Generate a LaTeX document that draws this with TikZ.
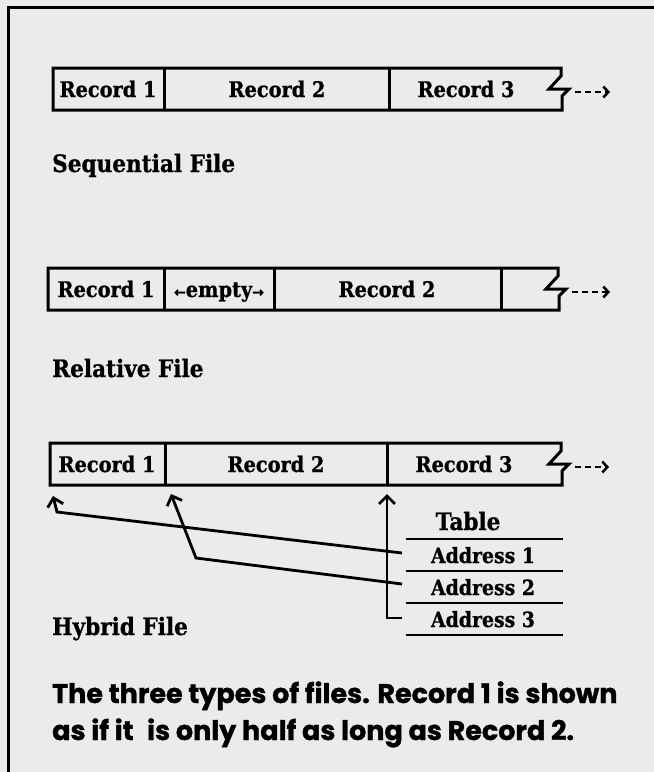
\documentclass[tikz,border=0pt]{standalone}
\usepackage{fontspec}
\setmainfont{DejaVu Serif Condensed}[BoldFeatures={FakeBold=0.8}]
\newfontfamily\capfont{Poppins}[BoldFeatures={FakeBold=1.2}]
\newfontfamily\symfont{DejaVu Sans}[BoldFeatures={FakeBold=1}]
\usetikzlibrary{arrows.meta}
\begin{document}
\begin{tikzpicture}[x=1pt,y=-1pt,
  rec/.style={font=\bfseries\fontsize{21.5}{24}\selectfont, inner sep=0pt},
  lbl/.style={font=\bfseries\fontsize{24}{28}\selectfont, inner sep=0pt, anchor=base west},
  addr/.style={font=\bfseries\fontsize{21}{24}\selectfont, inner sep=0pt, anchor=base},
  strip/.style={line width=3pt, line join=miter},
  ptr/.style={line width=2.8pt, -{Straight Barb[length=8pt,width=16pt]}},
  more/.style={line width=2.5pt, dash pattern=on 6pt off 4pt, -{Straight Barb[length=5pt,width=11pt]}},
  tab/.style={line width=2pt},
  capt/.style={font=\capfont\bfseries\fontsize{27}{30}\selectfont, inner sep=0pt, anchor=base west}
]
\useasboundingbox (0,0) rectangle (654,772);
\fill[black!8] (0,0) rectangle (654,772);
\draw[line width=3pt] (8,772) -- (8,7) -- (654,7);

% Sequential file
\draw[strip] (562,110) -- (53,110) -- (53,68) -- (561,68) -- (561,76) -- (549,89) -- (569,89) -- (562,96) -- cycle;
\draw[strip] (164,68) -- (164,110);
\draw[strip] (389,68) -- (389,110);
\node[rec] (s1) at (108,89) {Record 1};
\node[rec] (s2) at (277,89) {Record 2};
\node[rec] (s3) at (466,89) {Record 3};
\coordinate (s4) at (575,92);
\coordinate (s5) at (610,92);
\draw[more] (s4) -- (s5);
\node[lbl] (seq) at (52,172) {Sequential File};

% Relative file
\draw[strip] (559,310) -- (48,310) -- (48,268) -- (558,268) -- (558,276) -- (546,289) -- (566,289) -- (559,296) -- cycle;
\draw[strip] (164,268) -- (164,310);
\draw[strip] (274,268) -- (274,310);
\draw[strip] (501,268) -- (501,310);
\node[rec] (r1) at (106,289) {Record 1};
\node[rec, anchor=base] (r2) at (219,297) {{\symfont\bfseries\fontsize{14}{14}\selectfont ←}empty{\symfont\bfseries\fontsize{14}{14}\selectfont →}};
\node[rec] (r3) at (387,289) {Record 2};
\coordinate (r4) at (572,292);
\coordinate (r5) at (610,292);
\draw[more] (r4) -- (r5);
\node[lbl] (rel) at (52,377) {Relative File};

% Hybrid file
\draw[strip] (562,485) -- (50,485) -- (50,443) -- (561,443) -- (561,451) -- (549,464) -- (569,464) -- (562,471) -- cycle;
\draw[strip] (165,443) -- (165,485);
\draw[strip] (387,443) -- (387,485);
\node[rec] (h1) at (107,464) {Record 1};
\node[rec] (h2) at (276,464) {Record 2};
\node[rec] (h3) at (464,464) {Record 3};
\coordinate (h4) at (575,467);
\coordinate (h5) at (609,467);
\draw[more] (h4) -- (h5);
\node[lbl] (hyb) at (52,635) {Hybrid File};

% Table
\node[font=\bfseries\fontsize{24}{28}\selectfont, inner sep=0pt, anchor=base] (tbl) at (468,530) {Table};
\node[addr] (a1) at (483,563) {Address 1};
\node[addr] (a2) at (483,595) {Address 2};
\node[addr] (a3) at (483,627) {Address 3};
\draw[tab] (406,539) -- (563,539);
\draw[tab] (406,571) -- (563,571);
\draw[tab] (406,603) -- (563,603);
\draw[tab] (406,635) -- (563,635);

% pointers
\coordinate (e1) at (402,553);
\coordinate (k1) at (57,512);
\coordinate (t1) at (53,496);
\coordinate (e2) at (402,584);
\coordinate (k2) at (196,558);
\coordinate (t2) at (171,494);
\coordinate (e3) at (402,618);
\coordinate (k3) at (387,618);
\coordinate (t3) at (387,494);
\draw[ptr] (e1) -- (k1) -- (t1);
\draw[ptr] (e2) -- (k2) -- (t2);
\draw[ptr] (e3) -- (k3) -- (t3);

% caption
\node[capt] (c1) at (52,703) {The three types of files. Record 1 is shown};
\node[capt] (c2) at (52,740) {as if it\hspace{0.5em}is only half as long as Record 2.};
\end{tikzpicture}
\end{document}
